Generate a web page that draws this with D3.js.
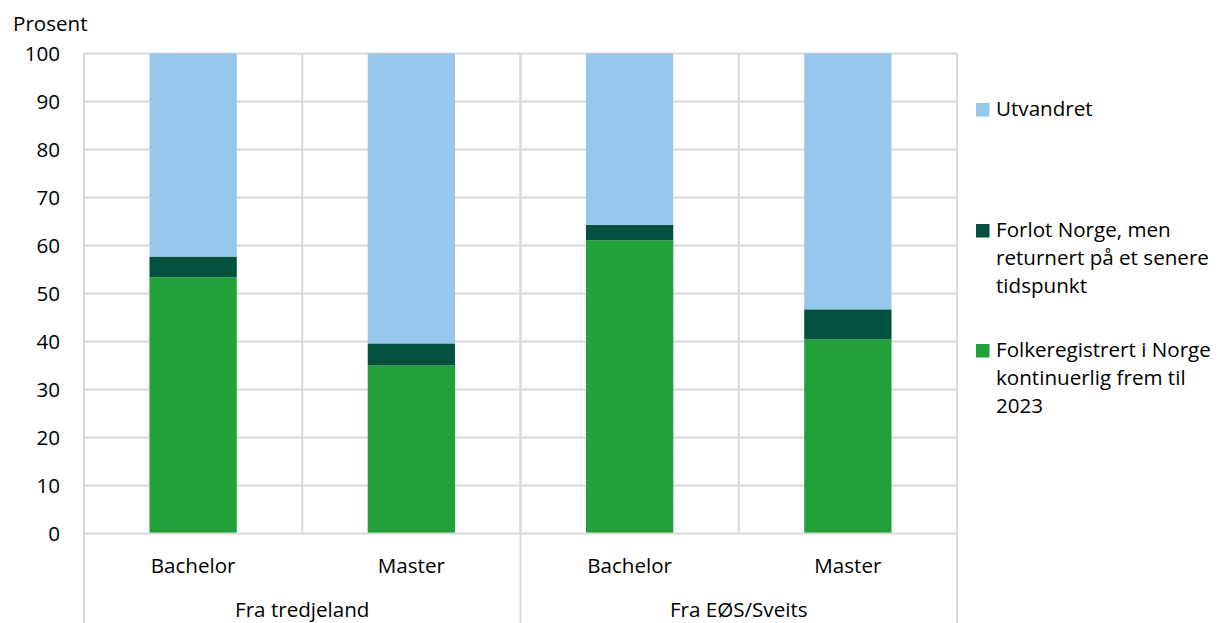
<!DOCTYPE html>
<html><head><meta charset="utf-8">
<script src="https://cdn.jsdelivr.net/npm/d3@7"></script>
<style>body{margin:0;background:#fff}svg{display:block;font-family:"Open Sans","Noto Sans",sans-serif}</style>
</head><body><svg id="c" width="1218" height="623"></svg>
<script>
const groups = ["Fra tredjeland", "Fra EØS/Sveits"];
const levels = ["Bachelor", "Master", "Bachelor", "Master"];
const folkeregistrert = [53.4, 35.0, 61.1, 40.5];
const forlot = [4.3, 4.6, 3.2, 6.2];
const utvandret = [42.3, 60.4, 35.7, 53.3];
const legendLines = [["Utvandret"], ["Forlot Norge, men", "returnert på et senere", "tidspunkt"], ["Folkeregistrert i Norge", "kontinuerlig frem til", "2023"]];
const colors = ["#22a03a", "#03513f", "#97c7eb"];
const yTicks = [0,10,20,30,40,50,60,70,80,90,100];

const FS = 20.6;
const svg = d3.select("#c");
const L = 84, R = 957, T = 53.5, B = 533.5;
const x = d3.scaleBand().domain(d3.range(4)).range([L, R]).paddingInner(0).paddingOuter(0);
const y = d3.scaleLinear().domain([0, 100]).range([B, T]);
const grid = "#d9d9d9";

svg.append("g").selectAll("line").data(yTicks.filter(d=>d>0)).join("line")
  .attr("x1", L).attr("x2", R).attr("y1", d=>y(d)).attr("y2", d=>y(d))
  .attr("stroke", grid).attr("stroke-width", 2);
svg.append("g").selectAll("line").data(d3.range(1,5)).join("line")
  .attr("x1", i => i<4 ? x(i) : R).attr("x2", i => i<4 ? x(i) : R)
  .attr("y1", T).attr("y2", B).attr("stroke", grid).attr("stroke-width", 2);

const data = d3.range(4).map(i => ({i, a: folkeregistrert[i], b: forlot[i], c: utvandret[i]}));
const stack = d3.stack().keys(["a","b","c"])(data);
const bw = x.bandwidth() * 0.4;
svg.append("g").selectAll("g").data(stack).join("g").attr("fill", (d,k)=>colors[k])
  .selectAll("rect").data(d=>d).join("rect")
  .attr("x", d => x(d.data.i) + (x.bandwidth()-bw)/2)
  .attr("width", bw)
  .attr("y", d => y(Math.min(d[1],100)))
  .attr("height", d => y(d[0]) - y(Math.min(d[1],100)));

svg.append("line").attr("x1", L).attr("x2", R).attr("y1", B).attr("y2", B).attr("stroke", grid).attr("stroke-width", 2);
[L, x(2), R].forEach(xx => svg.append("line").attr("x1", xx).attr("x2", xx).attr("y1", T).attr("y2", 623).attr("stroke", grid).attr("stroke-width", 2));

const yAxis = d3.axisLeft(y).tickValues(yTicks).tickSize(0).tickPadding(0);
const ya = svg.append("g").attr("transform", `translate(60,0)`).call(yAxis);
ya.select(".domain").remove();
ya.selectAll("text").attr("font-size", FS).attr("fill", "#000").attr("font-family", '"Open Sans","Noto Sans",sans-serif');
svg.append("text").attr("x", 13).attr("y", 31).attr("font-size", FS).text("Prosent");

const xAxis = d3.axisBottom(x).tickFormat(i=>levels[i]).tickSize(0).tickPadding(0);
const xa = svg.append("g").call(xAxis);
xa.select(".domain").remove();
xa.selectAll("text").attr("font-size", FS).attr("fill", "#000").attr("dy", null).attr("y", 573)
  .attr("font-family", '"Open Sans","Noto Sans",sans-serif');
groups.forEach((g, k) => {
  svg.append("text").attr("x", (x(2*k) + (k===0 ? x(2) : R))/2).attr("y", 617)
    .attr("text-anchor", "middle").attr("font-size", FS).text(g);
});

const legY = [116, 237, 357];
const lg = svg.append("g");
legendLines.forEach((lines, k) => {
  const ci = 2 - k;
  lg.append("rect").attr("x", 976).attr("y", legY[k]-13).attr("width", 13.5).attr("height", 13.5).attr("fill", colors[ci]);
  lines.forEach((t, j) => lg.append("text").attr("x", 996).attr("y", legY[k] + j*28).attr("font-size", FS).text(t));
});
</script></body></html>
